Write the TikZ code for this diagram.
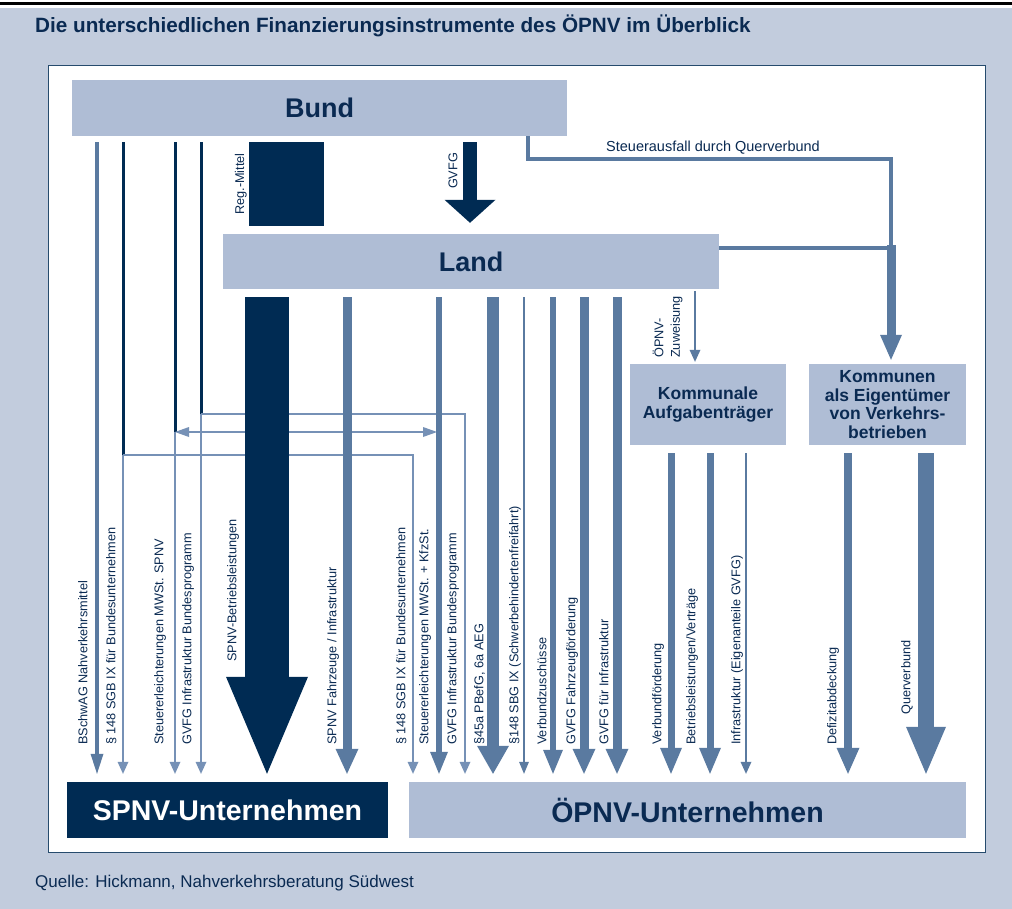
\documentclass[tikz,border=0pt]{standalone}
\usepackage{fontspec}
\setmainfont{Liberation Sans}
\usepackage{tikz}
\usetikzlibrary{arrows.meta,positioning,calc}
\definecolor{bgblue}{RGB}{194,204,221}
\definecolor{boxblue}{RGB}{175,189,213}
\definecolor{navy}{RGB}{0,43,83}
\definecolor{midblue}{RGB}{90,122,160}
\definecolor{thinblue}{RGB}{118,145,182}
\definecolor{textblue}{RGB}{10,42,82}

\begin{document}
\begin{tikzpicture}[x=1pt, y=-1pt,
  level/.style={fill=boxblue, inner sep=0pt, text=textblue, font=\bfseries\fontsize{27}{30}\selectfont},
  firm/.style={level, minimum height=56pt, font=\bfseries\fontsize{28.5}{30}\selectfont},
  owner/.style={fill=boxblue, inner sep=0pt, text=textblue, align=center, minimum width=156pt, minimum height=81pt, font=\bfseries\fontsize{17.5}{18.5}\selectfont},
  rot/.style={rotate=90, anchor=west, inner sep=0pt, text=textblue, font=\fontsize{12.7}{16.5}\selectfont},
  lbl/.style={rot, text height=9pt, text depth=2.5pt},
  flow/.style n args={3}{draw=midblue, line width=#1, -{Triangle[width=#2, length=#3, line width=0pt]}},
  thinflow/.style={draw=thinblue, line width=1.2pt, -{Triangle[width=11pt, length=12pt, line width=0pt]}},
  link/.style={draw=navy, line width=3pt},
  tie/.style={draw=midblue, line width=4.5pt},
  gap/.style={shorten <=#1, shorten >=8pt}
]
  \useasboundingbox (0,0) rectangle (1012,909);
  % background and panel
  \fill[bgblue] (0,8) rectangle (1012,909);
  \draw[line width=2.5pt] (0,3.5) -- (1012,3.5);
  \draw[fill=white, draw=navy!85, line width=1pt] (48,66) rectangle (985,852);

  \node[anchor=base west, inner sep=0pt, text=textblue, font=\bfseries\fontsize{20.7}{24}\selectfont] (title) at (35,33) {Die unterschiedlichen Finanzierungsinstrumente des ÖPNV im Überblick};
  \node[anchor=base west, inner sep=0pt, text=textblue, font=\fontsize{17}{20}\selectfont] (source) at (35,887) {Quelle: Hickmann, Nahverkehrsberatung Südwest};

  % levels
  \node[level, minimum width=495pt, minimum height=56pt] (bund) at (319.5,108) {Bund};
  \node[level, minimum width=496pt, minimum height=55pt] (land) at (471,261.5) {Land};
  \node[owner] (kaufg) at (708,404.5) {Kommunale\\Aufgabenträger};
  \node[owner, minimum width=157pt] (kommunen) at (887.5,404.5) {Kommunen\\als Eigentümer\\von Verkehrs-\\betrieben};
  \node[firm, fill=navy, text=white, minimum width=321pt] (spnv) at (227.5,810) {SPNV-Unternehmen};
  \node[firm, minimum width=557pt] (oepnv) at (687.5,810) {ÖPNV-Unternehmen};
  \node[fill=navy, minimum width=75pt, minimum height=84pt, inner sep=0pt] (regm) at (286.5,184) {};

  % Bund -> Land
  \draw[flow={14pt}{51pt}{23pt}, draw=navy, gap=6pt, shorten >=11pt] (470,0 |- bund.south) -- (470,0 |- land.north);

  % Bund -> Unternehmen
  \draw[flow={4.5pt}{13pt}{20pt}, gap=6pt] (97,0 |- bund.south) -- (97,0 |- spnv.north);
  \coordinate (s1) at (123,455);
  \coordinate (s2) at (175,432);
  \coordinate (s3) at (201,414);
  \coordinate (k2) at (437,432);
  \foreach \s in {s1,s2,s3} {
    \draw[link, shorten <=6pt] (\s |- bund.south) -- (\s);
    \draw[thinflow, shorten >=8pt] (\s) -- (\s |- spnv.north);
  }
  \draw[thinflow, shorten >=8pt] (s1) -| (413,0 |- oepnv.north);
  \draw[thinflow, shorten >=8pt] (s3) -| (465,0 |- oepnv.north);
  \draw[draw=thinblue, line width=1.2pt, {Triangle[width=10pt, length=14pt, line width=0pt]}-{Triangle[width=10pt, length=14pt, line width=0pt]}] (s2) -- (k2);

  % Land -> Unternehmen
  \draw[flow={44pt}{82pt}{97pt}, draw=navy, gap=8pt] (267,0 |- land.south) -- (267,0 |- spnv.north);
  \draw[flow={9pt}{23pt}{25pt}, gap=8pt] (347,0 |- land.south) -- (347,0 |- spnv.north);
  \foreach \x/\w/\hw/\hl in {439/5.5/18/22, 493/12/32/28, 524/2/10/12, 553/6/20/24, 584/9/23/25, 617/9/23/25}
    \draw[flow={\w pt}{\hw pt}{\hl pt}, gap=8pt] (\x,0 |- land.south) -- (\x,0 |- oepnv.north);

  % Kommunen -> OEPNV
  \foreach \x/\w/\hw/\hl in {671/7/22/26, 710/7/22/26, 746/2.5/11/12}
    \draw[flow={\w pt}{\hw pt}{\hl pt}, gap=8pt] (\x,0 |- kaufg.south) -- (\x,0 |- oepnv.north);
  \foreach \x/\w/\hw/\hl in {848/8/23/26, 926/16/40/47}
    \draw[flow={\w pt}{\hw pt}{\hl pt}, gap=8pt] (\x,0 |- kommunen.south) -- (\x,0 |- oepnv.north);

  % Querverbund
  \coordinate (qv) at (891,248);
  \draw[tie] (528,0 |- bund.south) |- (qv |- 0,159) -- (qv);
  \draw[tie] (land.east |- qv) -- (qv);
  \draw[flow={9pt}{22pt}{25pt}, shorten <=-2.5pt, shorten >=4pt] (qv) -- (qv |- kommunen.north);
  \draw[thinflow, draw=midblue, line width=1.5pt, shorten <=2pt, shorten >=2pt] (695,0 |- land.south) -- (695,0 |- kaufg.north);

  % labels
  \node[lbl, anchor=south] (reglbl) at ($(regm.west)+(-2,0)$) {Reg.-Mittel};
  \node[lbl, anchor=south] (gvfglbl) at (460,171) {GVFG};
  \node[font=\fontsize{14.5}{17}\selectfont, text=textblue, anchor=base, inner sep=0pt] (qvlbl) at (713,152) {Steuerausfall durch Querverbund};
  \node[rot, align=left] (zuwlbl) at (667.5,358) {ÖPNV-\\Zuweisung};
  \node[lbl] (betrlbl) at (233,662) {SPNV-Betriebsleistungen};
  \node[lbl] (querlbl) at (907,715) {Querverbund};
  \foreach \x/\t in {84/{BSchwAG Nahverkehrsmittel}, 112/{§ 148 SGB IX für Bundesunternehmen},
      160/{Steuererleichterungen MWSt. SPNV}, 188/{GVFG Infrastruktur Bundesprogramm},
      333/{SPNV Fahrzeuge / Infrastruktur}, 402/{§ 148 SGB IX für Bundesunternehmen},
      425/{Steuererleichterungen MWSt. + KfzSt.}, 453/{GVFG Infrastruktur Bundesprogramm},
      480/{§45a PBefG, 6a AEG}, 515/{§148 SBG IX (Schwerbehindertenfreifahrt)},
      543/{Verbundzuschüsse}, 572/{GVFG Fahrzeugförderung}, 605/{GVFG für Infrastruktur},
      658/{Verbundförderung}, 692/{Betriebsleistungen/Verträge},
      737/{Infrastruktur (Eigenanteile GVFG)}, 833/{Defizitabdeckung}}
    \node[lbl] (l\x) at (\x,745) {\t};
\end{tikzpicture}
\end{document}
